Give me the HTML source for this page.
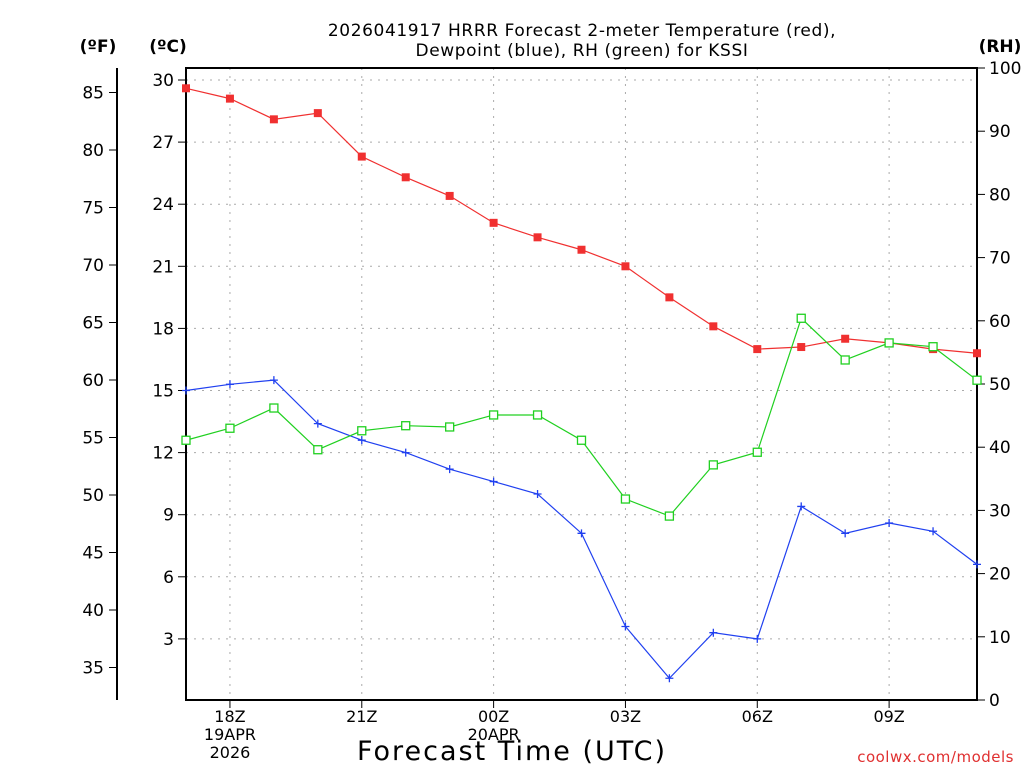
<!DOCTYPE html>
<html><head><meta charset="utf-8"><style>
body{margin:0;background:#fff;width:1024px;height:768px;overflow:hidden;font-family:"DejaVu Sans","Liberation Sans",sans-serif}
svg text{font-family:"DejaVu Sans","Liberation Sans",sans-serif}
</style></head><body>
<svg id="chart" width="1024" height="768" xmlns="http://www.w3.org/2000/svg">
<text x="582" y="36" font-size="17" text-anchor="middle" letter-spacing="0.6">2026041917 HRRR Forecast 2-meter Temperature (red),</text>
<text x="582" y="56" font-size="17" text-anchor="middle" letter-spacing="0.6">Dewpoint (blue), RH (green) for KSSI</text>
<text x="98" y="52" font-size="17" font-weight="bold" text-anchor="middle">(ºF)</text>
<text x="168" y="52" font-size="17" font-weight="bold" text-anchor="middle">(ºC)</text>
<text x="1000" y="52" font-size="17" font-weight="bold" text-anchor="middle">(RH)</text>
<text x="512" y="760" font-size="27" text-anchor="middle" letter-spacing="2">Forecast Time (UTC)</text>
<text x="1014" y="762" font-size="15" fill="#e03030" text-anchor="end" letter-spacing="0.5">coolwx.com/models</text>
<g id="grid"></g><g id="axes"></g><g id="series"></g>
</svg>
<script>
const hours=[17,18,19,20,21,22,23,24,25,26,27,28,29,30,31,32,33,34,35];
const tempC=[29.6,29.1,28.1,28.4,26.3,25.3,24.4,23.1,22.4,21.8,21.0,19.5,18.1,17.0,17.1,17.5,17.3,17.0,16.8];
const dewC=[15.0,15.3,15.5,13.4,12.6,12.0,11.2,10.6,10.0,8.1,3.6,1.1,3.3,3.0,9.4,8.1,8.6,8.2,6.6];
const rh=[41.1,43.0,46.2,39.6,42.6,43.4,43.2,45.1,45.1,41.1,31.8,29.1,37.2,39.2,60.4,53.8,56.5,55.9,50.6];
const cTicks=[3,6,9,12,15,18,21,24,27,30];
const fTicks=[35,40,45,50,55,60,65,70,75,80,85];
const rhTicks=[0,10,20,30,40,50,60,70,80,90,100];
const xTicks=[{h:18,l:["18Z","19APR","2026"]},{h:21,l:["21Z"]},{h:24,l:["00Z","20APR"]},{h:27,l:["03Z"]},{h:30,l:["06Z"]},{h:33,l:["09Z"]}];

const L=186,R=977,T=68,B=700;
const xs=h=>L+(h-17)*(R-L)/18;
const yc=c=>701-c*20.7;
const yf=f=>yc((f-32)*5/9)+1;
const yr=r=>B-r*(B-T)/100;
const NS="http://www.w3.org/2000/svg";
function mk(p,tag,at){const e=document.createElementNS(NS,tag);for(const k in at)e.setAttribute(k,at[k]);p.appendChild(e);return e;}
const grid=document.getElementById('grid'),axes=document.getElementById('axes'),ser=document.getElementById('series');

cTicks.forEach(c=>{
 const g=mk(grid,'line',{x1:L,x2:R,y1:yc(c),y2:yc(c),stroke:'#aaa','stroke-dasharray':'2,6'});
 
 
 mk(axes,'line',{x1:L-8,x2:L,y1:yc(c),y2:yc(c),stroke:'#000'});
 const t=mk(axes,'text',{x:L-12,y:yc(c)+6,'font-size':17,'text-anchor':'end'});t.textContent=c;
 
 
});
fTicks.forEach(f=>{
 mk(axes,'line',{x1:109,x2:117,y1:yf(f),y2:yf(f),stroke:'#000'});
 const t=mk(axes,'text',{x:104,y:yf(f)+6,'font-size':17,'text-anchor':'end'});t.textContent=f;
 
 
});
rhTicks.forEach(r=>{
 mk(axes,'line',{x1:R,x2:R+8,y1:yr(r),y2:yr(r),stroke:'#000'});
 const t=mk(axes,'text',{x:R+12,y:yr(r)+6,'font-size':17});t.textContent=r;
 
 
});
xTicks.forEach(o=>{
 const x=xs(o.h);
 const g=mk(grid,'line',{x1:x,x2:x,y1:T,y2:B,stroke:'#aaa','stroke-dasharray':'2,6'});
 
 
 mk(axes,'line',{x1:x,x2:x,y1:B,y2:B+8,stroke:'#000'});
 o.l.forEach((s,i)=>{const t=mk(axes,'text',{x:x,y:722+i*18,'font-size':16,'text-anchor':'middle'});t.textContent=s;
 
 });
});
const fr=mk(axes,'rect',{x:L,y:T,width:R-L,height:B-T,fill:'none',stroke:'#000','stroke-width':2});


mk(axes,'line',{x1:117,x2:117,y1:T,y2:B,stroke:'#000','stroke-width':2});

function line(vals,fy,col,name){
 const pl=mk(ser,'polyline',{points:vals.map((v,i)=>xs(hours[i])+','+fy(v)).join(' '),fill:'none',stroke:col,'stroke-width':1.2});
 
 
}
line(tempC,yc,'#f03030','temperature');
line(dewC,yc,'#2040f0','dewpoint');
line(rh,yr,'#20d020','rh');
tempC.forEach((v,i)=>{const e=mk(ser,'rect',{x:xs(hours[i])-4,y:yc(v)-4,width:8,height:8,fill:'#f03030'});
 
 });
dewC.forEach((v,i)=>{const x=xs(hours[i]),y=yc(v);const e=mk(ser,'path',{d:`M${x-4},${y}H${x+4}M${x},${y-4}V${y+4}`,stroke:'#2040f0','stroke-width':1.3});
 
 });
rh.forEach((v,i)=>{const e=mk(ser,'rect',{x:xs(hours[i])-4,y:yr(v)-4,width:8,height:8,fill:'#fff',stroke:'#20d020','stroke-width':1.3});
 
 });
</script>
</body></html>
